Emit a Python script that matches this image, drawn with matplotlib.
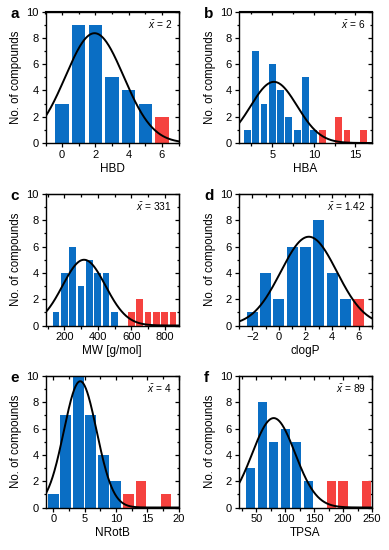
import matplotlib
matplotlib.use('Agg')
import matplotlib.pyplot as plt
import numpy as np
from matplotlib.ticker import MultipleLocator

plt.rcParams['font.family'] = ['Liberation Sans', 'DejaVu Sans']
plt.rcParams['mathtext.fontset'] = 'custom'
plt.rcParams['mathtext.it'] = 'Liberation Sans:italic'
plt.rcParams['mathtext.rm'] = 'Liberation Sans'

blue = '#0a6ec4'
red = '#f5423f'

# histogram bin centres and counts
hbd_x = [0, 1, 2, 3, 4, 5, 6]
hbd_n = [3, 9, 9, 5, 4, 3, 2]
hba_x = [2, 3, 4, 5, 6, 7, 8, 9, 10, 11, 13, 14, 16]
hba_n = [1, 7, 3, 6, 4, 2, 1, 5, 1, 1, 2, 1, 1]
mw_x = [150, 200, 250, 300, 350, 400, 450, 500, 600, 650, 700, 750, 800, 850]
mw_n = [1, 4, 6, 3, 5, 4, 4, 1, 1, 2, 1, 1, 1, 1]
clogp_x = [-2, -1, 0, 1, 2, 3, 4, 5, 6]
clogp_n = [1, 4, 2, 6, 6, 8, 4, 2, 2]
nrotb_x = [0, 2, 4, 6, 8, 10, 12, 14, 18]
nrotb_n = [1, 7, 10, 7, 4, 2, 1, 2, 1]
tpsa_x = [40, 60, 80, 100, 120, 140, 180, 200, 240]
tpsa_n = [3, 8, 5, 6, 5, 2, 2, 2, 2]

# bars above these limits are drawn red
limits = [5, 10, 500, 5, 10, 140]
means = ['2', '6', '331', '1.42', '4', '89']
labels = ['HBD', 'HBA', 'MW [g/mol]', 'clogP', 'NRotB', 'TPSA']
letters = ['a', 'b', 'c', 'd', 'e', 'f']

# fitted normal curves: peak height, centre, sd
fit_amp = [8.35, 4.65, 5.0, 6.75, 9.6, 6.8]
fit_mu = [1.95, 5.2, 318, 2.25, 4.3, 80]
fit_sd = [1.75, 2.79, 128, 2.11, 2.62, 37]

xs = [hbd_x, hba_x, mw_x, clogp_x, nrotb_x, tpsa_x]
ns = [hbd_n, hba_n, mw_n, clogp_n, nrotb_n, tpsa_n]

widths = [0.8, 0.82, 40, 0.84, 1.74, 16]
xlims = [(-1, 7), (1, 17), (88, 882), (-3, 7), (-1.25, 20), (20, 250)]
xmajor = [2, 5, 200, 2, 5, 50]
xminor = [1, 2.5, 100, 1, 2.5, 25]

fig = plt.figure(figsize=(3.89, 5.5), dpi=100)
W, H = 389, 550
lefts = [45.5, 239]
tops = [11.5, 194, 376]
aw, ah = 133, 131.5

for i in range(6):
    col = i % 2
    row = i // 2
    l = lefts[col]
    t = tops[row]
    ax = fig.add_axes([l / W, 1 - (t + ah) / H, aw / W, ah / H])

    x = np.array(xs[i], dtype=float)
    n = np.array(ns[i])
    colors = [red if v > limits[i] else blue for v in x]
    ax.bar(x, n, width=widths[i], color=colors, linewidth=0, zorder=2)

    xx = np.linspace(xlims[i][0], xlims[i][1], 300)
    yy = fit_amp[i] * np.exp(-(xx - fit_mu[i]) ** 2 / (2 * fit_sd[i] ** 2))
    ax.plot(xx, yy, color='black', lw=1.4, zorder=3)

    ax.set_xlim(*xlims[i])
    ax.set_ylim(0, 10)
    ax.xaxis.set_major_locator(MultipleLocator(xmajor[i]))
    ax.xaxis.set_minor_locator(MultipleLocator(xminor[i]))
    ax.yaxis.set_major_locator(MultipleLocator(2))
    ax.yaxis.set_minor_locator(MultipleLocator(1))
    ax.tick_params(which='both', direction='out', labelsize=8, width=0.9, pad=2)
    ax.tick_params(which='major', length=3)
    ax.tick_params(which='minor', length=1.8)
    for s in ax.spines.values():
        s.set_linewidth(1.0)

    # inward ticks on the top and right spines
    top = ax.secondary_xaxis('top')
    top.xaxis.set_major_locator(MultipleLocator(xmajor[i]))
    top.xaxis.set_minor_locator(MultipleLocator(xminor[i]))
    top.tick_params(which='both', direction='in', labeltop=False, width=0.9)
    top.tick_params(which='major', length=3)
    top.tick_params(which='minor', length=1.8)
    right = ax.secondary_yaxis('right')
    right.yaxis.set_major_locator(MultipleLocator(2))
    right.yaxis.set_minor_locator(MultipleLocator(1))
    right.tick_params(which='both', direction='in', labelright=False, width=0.9)
    right.tick_params(which='major', length=3)
    right.tick_params(which='minor', length=1.8)

    ax.set_xlabel(labels[i], fontsize=8.5, labelpad=2)
    ax.set_ylabel('No. of compounds', fontsize=8.3, labelpad=3)
    ax.text(0.95, 0.9, r'$\bar{x}$ = ' + means[i], transform=ax.transAxes,
            ha='right', va='center', fontsize=7.3)
    fig.text((l - 35) / W, 1 - (t + 2) / H, letters[i], fontsize=11,
             fontweight='bold', ha='left', va='center')

fig.savefig('out.png', dpi=100)
